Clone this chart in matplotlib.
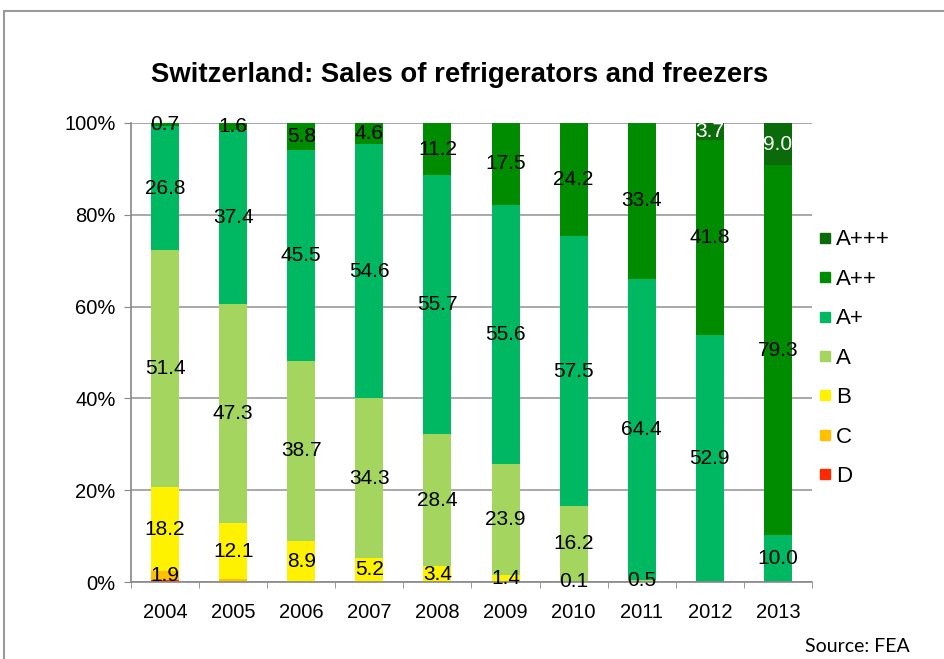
import matplotlib
matplotlib.use("Agg")
import matplotlib.pyplot as plt
import numpy as np
from matplotlib.lines import Line2D
from matplotlib.patches import Rectangle

plt.rcParams["font.family"] = ["Liberation Sans", "DejaVu Sans"]

years = ["2004", "2005", "2006", "2007", "2008", "2009", "2010", "2011", "2012", "2013"]
classes = ["D", "C", "B", "A", "A+", "A++", "A+++"]

# shares in % (D 2004 and C 2005 have no label, estimated)
d_vals = [0.4, 0.0, 0.0, 0.0, 0.0, 0.0, 0.0, 0.0, 0.0, 0.0]
c_vals = [1.9, 0.6, 0.0, 0.0, 0.0, 0.0, 0.0, 0.0, 0.0, 0.0]
b_vals = [18.2, 12.1, 8.9, 5.2, 3.4, 1.4, 0.1, 0.0, 0.0, 0.0]
a_vals = [51.4, 47.3, 38.7, 34.3, 28.4, 23.9, 16.2, 0.5, 0.0, 0.0]
ap_vals = [26.8, 37.4, 45.5, 54.6, 55.7, 55.6, 57.5, 64.4, 52.9, 10.0]
app_vals = [0.7, 1.6, 5.8, 4.6, 11.2, 17.5, 24.2, 33.4, 41.8, 79.3]
appp_vals = [0.0, 0.0, 0.0, 0.0, 0.0, 0.0, 0.0, 0.0, 3.7, 9.0]

colors = ["#ff2a00", "#ffc000", "#fff200", "#a3d55f", "#00b862", "#008c00", "#0b6b0b"]
hidden = {("D", 0), ("C", 1)}
white_labels = {("A+++", 8), ("A+++", 9)}

series = [d_vals, c_vals, b_vals, a_vals, ap_vals, app_vals, appp_vals]
data = np.array(series, dtype=float)
totals = data.sum(axis=0)
shares = data / totals * 100

fig = plt.figure(figsize=(9.45, 6.59), dpi=100)
ax = fig.add_axes([131 / 945, 1 - 582 / 659, 681 / 945, 459 / 659])

x = np.arange(len(years))
bottom = np.zeros(len(years))
handles = []
for name, raw, sh, col in zip(classes, data, shares, colors):
    ax.bar(x, sh, bottom=bottom, width=0.41, color=col, zorder=2)
    for i in range(len(years)):
        if raw[i] <= 0 or (name, i) in hidden:
            continue
        yc = bottom[i] + sh[i] / 2
        tc = "white" if (name, i) in white_labels else "black"
        ax.text(x[i], yc, f"{raw[i]:.1f}", ha="center", va="center",
                fontsize=15, color=tc, zorder=3)
    bottom += sh
    handles.append(Line2D([], [], marker="s", linestyle="none", markersize=7.5,
                          markerfacecolor=col, markeredgecolor=col, label=name))

ax.set_xlim(-0.5, len(years) - 0.5)
ax.set_ylim(0, 100)
ax.set_yticks(np.arange(0, 101, 20))
ax.set_yticklabels([f"{v}%" for v in range(0, 101, 20)], fontsize=14.5)
ax.set_xticks(x)
ax.set_xticklabels(years, fontsize=14.5)
ax.set_xticks(np.arange(-0.5, len(years), 1), minor=True)
ax.tick_params(axis="x", which="major", length=0, pad=15)
ax.tick_params(axis="x", which="minor", length=4, color="#888888")
ax.tick_params(axis="y", length=5, color="#888888", pad=6)
ax.grid(axis="y", color="#999999", linewidth=1.2, zorder=0)
for s in ["top", "right"]:
    ax.spines[s].set_visible(False)
for s in ["left", "bottom"]:
    ax.spines[s].set_color("#888888")
    ax.spines[s].set_linewidth(1.2)

ax.legend(handles=handles[::-1], loc="upper left", bbox_to_anchor=(0.985, 0.802),
          frameon=False, fontsize=16, handlelength=0.7, handletextpad=0.15,
          labelspacing=0.83, borderaxespad=0.3)

fig.text(460 / 945, 1 - 75 / 659, "Switzerland: Sales of refrigerators and freezers",
         ha="center", va="center", fontsize=19.8, fontweight="bold")
fig.text(910 / 945, 1 - 647 / 659, "Source: FEA", ha="right", va="center",
         fontsize=14, family=["Lato", "DejaVu Sans"])

fig.add_artist(Rectangle((4 / 945, -0.2), 1.5, 0.2 + (1 - 11 / 659),
                         transform=fig.transFigure, fill=False,
                         edgecolor="#999999", linewidth=1.5))

fig.savefig("out.png", dpi=100)
